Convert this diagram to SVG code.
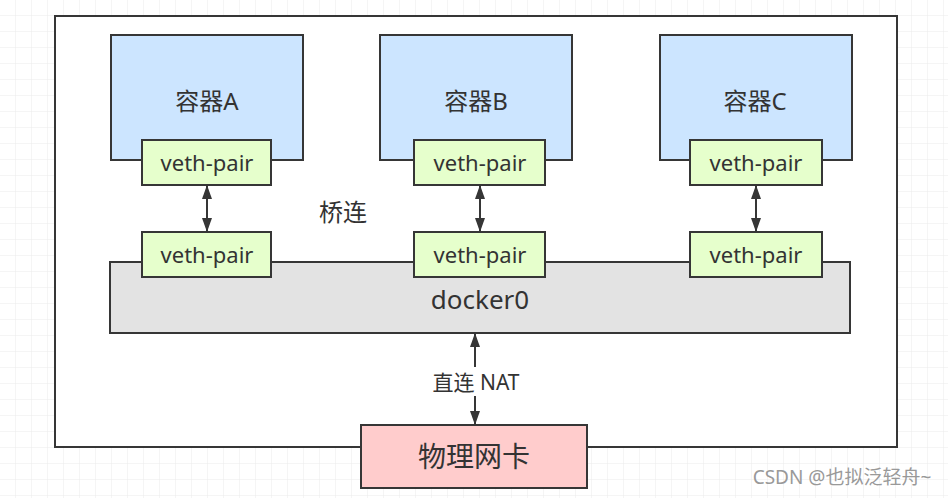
<svg xmlns="http://www.w3.org/2000/svg" width="948" height="498" viewBox="0 0 948 498">
<style>
text{font-family:"Noto Sans","Noto Sans CJK SC",sans-serif;fill:#333;text-anchor:middle;dominant-baseline:central}
.box{stroke:#363636;stroke-width:2}
.ct{fill:#cce5ff}.vp{fill:#e6ffcc}
.t24{font-size:24px}.t22{font-size:22px}
.ln{stroke:#363636;stroke-width:2;fill:none}
</style>
<defs>
<pattern id="g" width="16" height="16" patternUnits="userSpaceOnUse"><path d="M16 0V16H0" fill="none" stroke="#ebebeb" stroke-width="1"/></pattern>
<marker id="a" markerWidth="14" markerHeight="10" refX="13" refY="5" orient="auto-start-reverse" markerUnits="userSpaceOnUse"><path d="M0 0L14 5L0 10Z" fill="#363636"/></marker>
</defs>
<rect width="948" height="498" fill="#fff"/>
<rect width="948" height="498" fill="url(#g)"/>
<g id="host"><rect class="box" x="55" y="16" width="842" height="431" fill="#fff"/></g>
<g id="docker0"><rect class="box" x="110" y="262" width="740" height="71" fill="#e3e3e3"/><text style="font-size:26px" x="480" y="299">docker0</text></g>
<g id="containerA"><rect class="box ct" x="111" y="35" width="192" height="125"/><text class="t24" x="207" y="100">容器A</text></g>
<g id="containerB"><rect class="box ct" x="380" y="35" width="192" height="125"/><text class="t24" x="476" y="100">容器B</text></g>
<g id="containerC"><rect class="box ct" x="660" y="35" width="192" height="125"/><text class="t24" x="755" y="100">容器C</text></g>
<g id="vethA1"><rect class="box vp" x="142" y="140" width="129" height="45"/><text class="t22" x="207" y="162">veth-pair</text></g>
<g id="vethB1"><rect class="box vp" x="414" y="140" width="131" height="45"/><text class="t22" x="480" y="162">veth-pair</text></g>
<g id="vethC1"><rect class="box vp" x="690" y="140" width="132" height="45"/><text class="t22" x="756" y="162">veth-pair</text></g>
<g id="vethA2"><rect class="box vp" x="142" y="232" width="129" height="45"/><text class="t22" x="207" y="254">veth-pair</text></g>
<g id="vethB2"><rect class="box vp" x="414" y="232" width="131" height="45"/><text class="t22" x="480" y="254">veth-pair</text></g>
<g id="vethC2"><rect class="box vp" x="690" y="232" width="132" height="45"/><text class="t22" x="756" y="254">veth-pair</text></g>
<g id="nic"><rect class="box" x="361" y="425" width="226" height="63" fill="#ffcccc" stroke="#111"/><text style="font-size:28px" x="474" y="456">物理网卡</text></g>
<g id="connectors">
<line class="ln" x1="207" y1="186" x2="207" y2="231" marker-start="url(#a)" marker-end="url(#a)"/>
<line class="ln" x1="480" y1="186" x2="480" y2="231" marker-start="url(#a)" marker-end="url(#a)"/>
<line class="ln" x1="756" y1="186" x2="756" y2="231" marker-start="url(#a)" marker-end="url(#a)"/>
<line class="ln" x1="475" y1="334" x2="475" y2="367" marker-start="url(#a)"/>
<line class="ln" x1="475" y1="396" x2="475" y2="424" marker-end="url(#a)"/>
<text style="font-size:21px" x="476" y="382">直连 NAT</text>
<text class="t24" x="343" y="211">桥连</text>
</g>
<text x="842" y="477" style="font-size:19px;fill:#999">CSDN @也拟泛轻舟~</text>
</svg>
